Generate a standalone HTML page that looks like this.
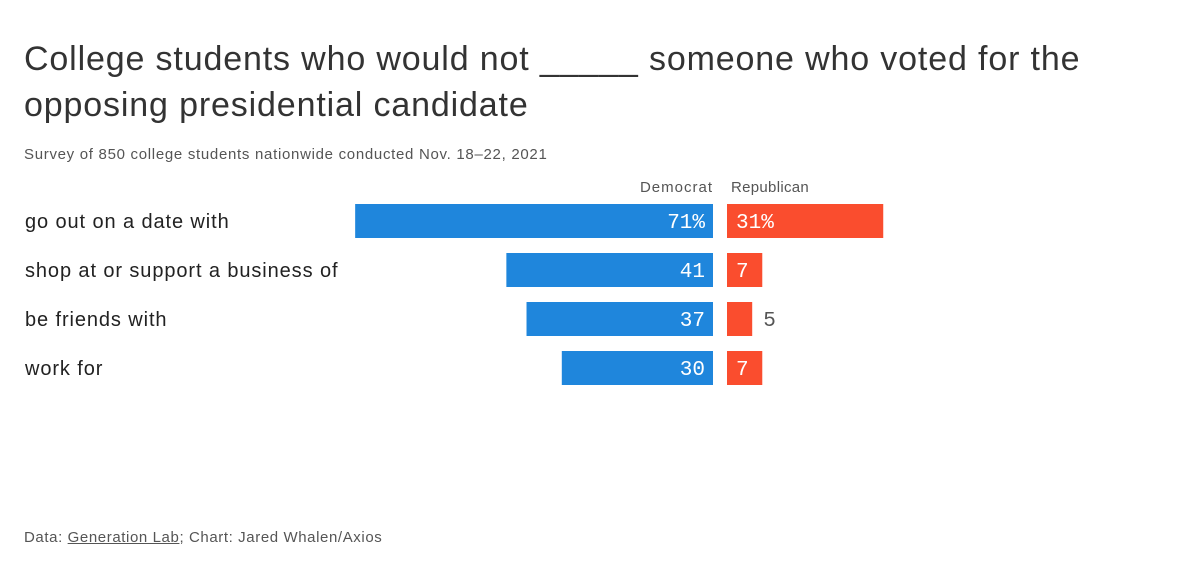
<!DOCTYPE html>
<html><head><meta charset="utf-8"><style>
body{margin:0;background:#fff;width:1200px;height:576px;overflow:hidden;font-family:"Liberation Sans",sans-serif;color:#333}
#title{position:absolute;left:24px;top:36px;font-size:34px;line-height:46px;color:#333;letter-spacing:0.85px;width:1100px}
#sub{position:absolute;left:24px;top:146px;font-size:15px;color:#555;letter-spacing:0.7px}
#foot{position:absolute;left:24px;top:529px;font-size:15px;color:#555;letter-spacing:0.6px}
</style></head><body>
<div id="title">College students who would not _____ someone who voted for the opposing presidential candidate</div>
<div id="sub">Survey of 850 college students nationwide conducted Nov. 18–22, 2021</div>
<svg id="chart" width="1200" height="576" style="position:absolute;left:0;top:0"></svg>
<div id="foot">Data: <u>Generation Lab</u>; Chart: Jared Whalen/Axios</div>
<script>
const categories=["go out on a date with","shop at or support a business of","be friends with","work for"];
const demValues=[71,41,37,30];
const repValues=[31,7,5,7];
const svg=document.getElementById('chart');
const NS='http://www.w3.org/2000/svg';
const scale=v=>v*5.04;
const demRight=713, repLeft=727;
const rowY=i=>204+i*49, barH=34;
function el(t,a){const e=document.createElementNS(NS,t);for(const k in a)e.setAttribute(k,a[k]);svg.appendChild(e);return e;}
let h=el('text',{x:713,y:192,'text-anchor':'end','font-size':15,fill:'#555','letter-spacing':1});h.textContent='Democrat';


h=el('text',{x:731,y:192,'font-size':15,fill:'#555','letter-spacing':0.3});h.textContent='Republican';


categories.forEach((c,i)=>{
  const y=rowY(i);
  const t=el('text',{x:25,y:y+barH/2+7,'font-size':20,fill:'#222','letter-spacing':0.9});t.textContent=c;
  
  
  const dw=scale(demValues[i]);
  const b=el('rect',{x:demRight-dw,y:y,width:dw,height:barH,fill:'#1f86dc'});
  
  
  const dl=el('text',{x:demRight-8,y:y+barH/2+7,'text-anchor':'end','font-size':21,'font-family':'Liberation Mono, monospace',fill:'#fff'});
  dl.textContent=demValues[i]+(i===0?'%':'');
  
  
  const rw=scale(repValues[i]);
  const r=el('rect',{x:repLeft,y:y,width:rw,height:barH,fill:'#fa4d2e'});
  
  
  const txt=repValues[i]+(i===0?'%':'');
  const inside=rw>=30;
  const rl=el('text',{x:inside?repLeft+9:repLeft+rw+11,y:y+barH/2+7,'font-size':21,'font-family':'Liberation Mono, monospace',fill:inside?'#fff':'#555'});
  rl.textContent=txt;
  
  
});
</script>
</body></html>
